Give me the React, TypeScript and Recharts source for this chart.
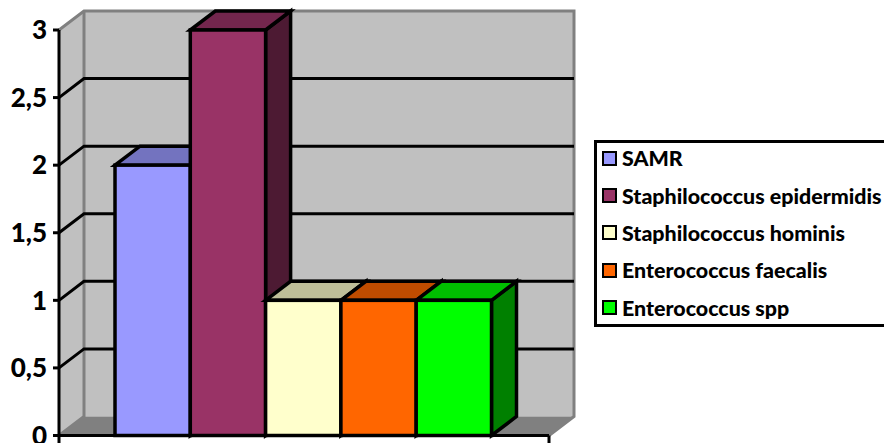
import { BarChart, Bar, XAxis, YAxis, CartesianGrid, ReferenceArea, Legend } from 'recharts';

const categories = [''];
const seriesNames = [
  'SAMR',
  'Staphilococcus epidermidis',
  'Staphilococcus hominis',
  'Enterococcus faecalis',
  'Enterococcus spp',
];
const seriesValues = [2, 3, 1, 1, 1];
const seriesColors = ['#9999FF', '#993366', '#FFFFCC', '#FF6600', '#00FF00'];
const topColors = ['#7373BF', '#73264D', '#BFBF99', '#BF4C00', '#00BF00'];
const sideColors = ['#4D4D80', '#4D1A33', '#808066', '#803300', '#008000'];
const yTicks = [0, 0.5, 1, 1.5, 2, 2.5, 3];

const DEPTH_X = 25;
const DEPTH_Y = 19;
// The bar group sits slightly left of centre, so the band is narrower than the floor
const BAND_PADDING_RIGHT = 2.5;
const FONT = 'Lato, "Open Sans", sans-serif';

const data = categories.map((name) => {
  const row: Record<string, string | number> = { name };
  seriesNames.forEach((s, i) => {
    row[s] = seriesValues[i];
  });
  return row;
});

// Back wall, side wall and floor of the 3D box
function Walls({ x, y, width, height }: any) {
  const bottom = y + height;
  const right = x + width + BAND_PADDING_RIGHT;
  return (
    <g>
      <polygon
        points={`${x},${y} ${x + DEPTH_X},${y - DEPTH_Y} ${right + DEPTH_X},${y - DEPTH_Y} ${right + DEPTH_X},${bottom - DEPTH_Y} ${x + DEPTH_X},${bottom - DEPTH_Y} ${x},${bottom}`}
        fill="#C0C0C0"
      />
      <polygon
        points={`${x},${bottom} ${x + DEPTH_X},${bottom - DEPTH_Y} ${right + DEPTH_X},${bottom - DEPTH_Y} ${right},${bottom}`}
        fill="#808080"
      />
      <polyline
        points={`${x},${y} ${x + DEPTH_X},${y - DEPTH_Y} ${right + DEPTH_X},${y - DEPTH_Y} ${right + DEPTH_X},${bottom - DEPTH_Y} ${right},${bottom}`}
        fill="none"
        stroke="#808080"
        strokeWidth={3}
      />
      <polyline
        points={`${x + DEPTH_X},${y - DEPTH_Y} ${x + DEPTH_X},${bottom - DEPTH_Y} ${x},${bottom}`}
        fill="none"
        stroke="#808080"
        strokeWidth={3}
      />
      <line x1={right} y1={bottom} x2={right} y2={bottom + 8} stroke="#000" strokeWidth={3} />
      <line x1={x} y1={bottom} x2={x} y2={bottom + 8} stroke="#000" strokeWidth={3} />
    </g>
  );
}

// Each grid line runs along the side wall and then across the back wall
function GridLine({ x1, y1, x2, y2, index }: any) {
  if (index === 0 || index === yTicks.length - 1) return <g />;
  return (
    <polyline
      points={`${x1},${y1} ${x1 + DEPTH_X},${y1 - DEPTH_Y} ${x2 + DEPTH_X},${y2 - DEPTH_Y}`}
      fill="none"
      stroke="#000"
      strokeWidth={3}
    />
  );
}

function Box3D({ x, y, width, height, fill, index }: any) {
  const top = topColors[index];
  const side = sideColors[index];
  const right = x + width;
  const bottom = y + height;
  return (
    <g stroke="#000" strokeWidth={3.5} strokeLinejoin="miter">
      <polygon
        points={`${right},${y} ${right + DEPTH_X},${y - DEPTH_Y} ${right + DEPTH_X},${bottom - DEPTH_Y} ${right},${bottom}`}
        fill={side}
      />
      <polygon
        points={`${x},${y} ${x + DEPTH_X},${y - DEPTH_Y} ${right + DEPTH_X},${y - DEPTH_Y} ${right},${y}`}
        fill={top}
      />
      <rect x={x} y={y} width={width} height={height} fill={fill} />
    </g>
  );
}

function LegendBox() {
  return (
    <div
      style={{
        width: 320,
        height: 181,
        boxSizing: 'content-box',
        border: '3px solid #000',
        background: '#fff',
        fontFamily: FONT,
        fontWeight: 900,
        fontSize: 21.4,
        color: '#000',
      }}
    >
      <div style={{ marginTop: -3.5 }}>
        {seriesNames.map((name, i) => (
          <div key={name} style={{ display: 'flex', alignItems: 'center', height: 37.4, paddingLeft: 5 }}>
            <span
              style={{
                width: 11,
                height: 11,
                border: '2.5px solid #000',
                background: seriesColors[i],
                marginRight: 5,
                flex: 'none',
              }}
            />
            <span style={{ whiteSpace: 'nowrap' }}>{name}</span>
          </div>
        ))}
      </div>
    </div>
  );
}

export default function App() {
  return (
    <div style={{ position: 'absolute', left: 0, top: 0, width: 884, height: 443, overflow: 'hidden', background: '#fff' }}>
      <BarChart
        width={884}
        height={443}
        data={data}
        margin={{ top: 30, right: 335, bottom: 0, left: 0 }}
        barSize={75.3}
        barGap={0}
      >
        <ReferenceArea
          x1={categories[0]}
          x2={categories[0]}
          y1={0}
          y2={3}
          shape={<Walls />}
          ifOverflow="visible"
          zIndex={-200}
        />
        <CartesianGrid vertical={false} horizontal={(props: any) => <GridLine key={props.index} {...props} />} />
        <XAxis
          dataKey="name"
          height={7.5}
          padding={{ left: 0, right: BAND_PADDING_RIGHT }}
          tick={false}
          tickLine={false}
          axisLine={{ stroke: '#000', strokeWidth: 3 }}
        />
        <YAxis
          width={59}
          domain={[0, 3]}
          ticks={yTicks}
          interval={0}
          axisLine={{ stroke: '#000', strokeWidth: 3 }}
          tickLine={{ stroke: '#000', strokeWidth: 3 }}
          tickSize={6}
          tickMargin={6}
          tick={{ fill: '#000', fontSize: 26, fontWeight: 900, fontFamily: FONT }}
          tickFormatter={(v: number) => String(v).replace('.', ',')}
        />
        <Legend
          layout="vertical"
          align="center"
          verticalAlign="middle"
          content={<LegendBox />}
          wrapperStyle={{ left: 594, top: 140, width: 326, height: 187 }}
        />
        {seriesNames.map((name, i) => (
          <Bar
            key={name}
            dataKey={name}
            fill={seriesColors[i]}
            isAnimationActive={false}
            shape={(props: any) => <Box3D {...props} index={i} />}
          />
        ))}
      </BarChart>
    </div>
  );
}
